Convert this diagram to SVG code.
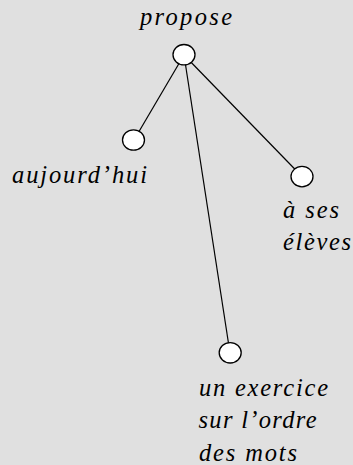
<svg xmlns="http://www.w3.org/2000/svg" width="353" height="465" viewBox="0 0 353 465">
<style>
.bg{fill:#e0e0e0}
.node{fill:#ffffff;stroke:#000000;stroke-width:1.3}
.edge{stroke:#000000;stroke-width:1.2;fill:none}
.lbl{font-family:"Liberation Serif","Times New Roman",serif;font-style:italic;font-size:24.5px;fill:#000000}
</style>
<rect class="bg" x="0" y="0" width="353" height="465"/>
<g id="connectors">
<line class="edge" x1="184" y1="55" x2="134" y2="140"/>
<line class="edge" x1="184" y1="55" x2="230" y2="353"/>
<line class="edge" x1="184" y1="55" x2="302" y2="176.5"/>
</g>
<g id="node-propose">
<ellipse class="node" cx="184" cy="54.7" rx="11" ry="10.2"/>
<text class="lbl" x="140" y="25" textLength="92" lengthAdjust="spacing">propose</text>
</g>
<g id="node-aujourdhui">
<ellipse class="node" cx="133.5" cy="140" rx="11" ry="10.2"/>
<text class="lbl" x="12" y="183" textLength="135" lengthAdjust="spacing">aujourd’hui</text>
</g>
<g id="node-a-ses-eleves">
<ellipse class="node" cx="302" cy="176.6" rx="11" ry="10.2"/>
<text class="lbl" x="283" y="218" textLength="56" lengthAdjust="spacing">à ses</text>
<text class="lbl" x="283" y="250" textLength="68" lengthAdjust="spacing">élèves</text>
</g>
<g id="node-un-exercice">
<ellipse class="node" cx="230.2" cy="352.8" rx="11" ry="10.2"/>
<text class="lbl" x="199" y="395.5" textLength="129" lengthAdjust="spacing">un exercice</text>
<text class="lbl" x="198.5" y="428" textLength="118" lengthAdjust="spacing">sur l’ordre</text>
<text class="lbl" x="199" y="460.5" textLength="98" lengthAdjust="spacing">des mots</text>
</g>
</svg>
